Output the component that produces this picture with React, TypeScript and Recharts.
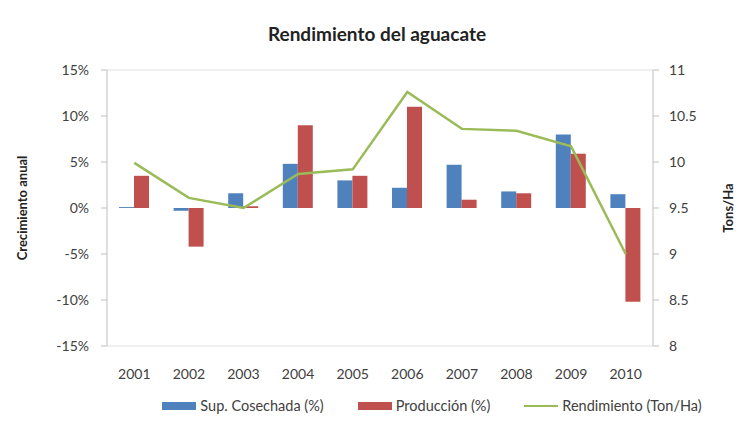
import React from 'react';
import { ComposedChart, Bar, Line, XAxis, YAxis, CartesianGrid, Legend } from 'recharts';

const years = ['2001', '2002', '2003', '2004', '2005', '2006', '2007', '2008', '2009', '2010'];
const supCosechada = [0.1, -0.3, 1.6, 4.8, 3.0, 2.2, 4.7, 1.8, 8.0, 1.5];
const produccion = [3.5, -4.2, 0.2, 9.0, 3.5, 11.0, 0.9, 1.6, 5.9, -10.2];
const rendimiento = [9.99, 9.61, 9.5, 9.87, 9.92, 10.76, 10.36, 10.34, 10.17, 9.0];

const leftTicks = [-0.15, -0.1, -0.05, 0, 0.05, 0.1, 0.15];
const rightTicks = [8, 8.5, 9, 9.5, 10, 10.5, 11];

const data = years.map((year, i) => ({
  year,
  sup: supCosechada[i] / 100,
  prod: produccion[i] / 100,
  rend: rendimiento[i],
}));

const font = 'Lato, "Open Sans", sans-serif';
const tickStyle = { fontSize: 14, fill: '#404040', fontFamily: font };

const legendItems = [
  { label: 'Sup. Cosechada (%)', color: '#4F81BD', type: 'rect' },
  { label: 'Producción (%)', color: '#C0504D', type: 'rect' },
  { label: 'Rendimiento (Ton/Ha)', color: '#9BBB59', type: 'line' },
];

const renderLegend = () => (
  <div style={{ display: 'flex', justifyContent: 'center', gap: 34, fontSize: 14.5, color: '#404040', fontFamily: font, paddingLeft: 122 }}>
    {legendItems.map((it) => (
      <div key={it.label} style={{ display: 'flex', alignItems: 'center', gap: 4 }}>
        {it.type === 'rect' ? (
          <span style={{ display: 'inline-block', width: 34, height: 8, background: it.color }} />
        ) : (
          <span style={{ display: 'inline-block', width: 34, height: 2, background: it.color }} />
        )}
        <span>{it.label}</span>
      </div>
    ))}
  </div>
);

export default function App() {
  return (
    <div style={{ position: 'absolute', left: 0, top: 0, width: 742, height: 433, background: '#fff', fontFamily: font }}>
      <div style={{ position: 'absolute', top: 22, width: 742, textAlign: 'center', fontSize: 19, fontWeight: 700, color: '#222', left: 6 }}>
        Rendimiento del aguacate
      </div>
      <ComposedChart
        width={742}
        height={433}
        data={data}
        margin={{ top: 70, right: 0, left: 0, bottom: 0 }}
        barGap={0}
      >
        <CartesianGrid vertical={false} stroke="#e0e0e0" />
        <XAxis
          dataKey="year"
          height={45}
          tick={tickStyle}
          tickLine={false}
          axisLine={false}
          tickMargin={17}
        />
        <YAxis
          yAxisId="left"
          width={107}
          domain={[-0.15, 0.15]}
          ticks={leftTicks}
          tickFormatter={(v: number) => `${Math.round(v * 100)}%`}
          tick={tickStyle}
          tickLine={{ stroke: '#bfbfbf' }}
          axisLine={{ stroke: '#bfbfbf' }}
          tickMargin={12}
          label={{
            value: 'Crecimiento anual',
            angle: -90,
            position: 'insideLeft',
            offset: 22,
            style: { fontSize: 13, fontWeight: 700, fill: '#222', textAnchor: 'middle', fontFamily: font },
          }}
        />
        <YAxis
          yAxisId="right"
          orientation="right"
          width={89}
          domain={[8, 11]}
          ticks={rightTicks}
          tick={tickStyle}
          tickLine={{ stroke: '#bfbfbf' }}
          axisLine={{ stroke: '#bfbfbf' }}
          tickMargin={10}
          label={{
            value: 'Tons/Ha',
            angle: -90,
            position: 'insideRight',
            offset: 14,
            style: { fontSize: 13, fontWeight: 700, fill: '#222', textAnchor: 'middle', fontFamily: font },
          }}
        />
        <Legend verticalAlign="bottom" height={36} content={renderLegend} wrapperStyle={{ paddingTop: 6 }} />
        <Bar yAxisId="left" dataKey="sup" name="Sup. Cosechada (%)" fill="#4F81BD" barSize={15} isAnimationActive={false} />
        <Bar yAxisId="left" dataKey="prod" name="Producción (%)" fill="#C0504D" barSize={15} isAnimationActive={false} />
        <Line
          yAxisId="right"
          dataKey="rend"
          name="Rendimiento (Ton/Ha)"
          stroke="#9BBB59"
          strokeWidth={2.5}
          dot={false}
          type="linear"
          isAnimationActive={false}
        />
      </ComposedChart>
    </div>
  );
}
